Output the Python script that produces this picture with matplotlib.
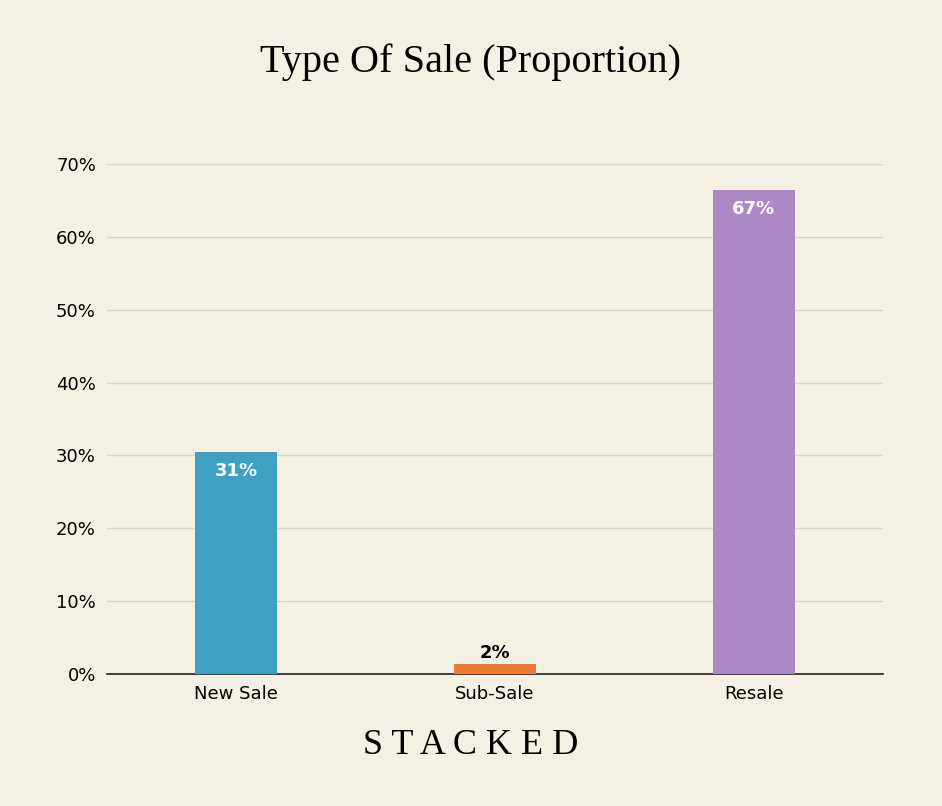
import matplotlib.pyplot as plt
from matplotlib.ticker import FuncFormatter

categories = ["New Sale", "Sub-Sale", "Resale"]
values = [30.5, 1.4, 66.4]
labels = ["31%", "2%", "67%"]
colors = ["#3fa1c1", "#ec7a31", "#ad88c6"]
bg = "#f4f0e4"

fig = plt.figure(figsize=(9.42, 8.06), dpi=100, facecolor=bg)
ax = fig.add_axes([0.1136, 0.1638, 0.8238, 0.6327], facecolor=bg)

x = range(len(categories))
ax.bar(x, values, width=0.317, color=colors, zorder=3)

for i, (v, lab) in enumerate(zip(values, labels)):
    if v > 10:
        ax.text(i, v - 1.4, lab, ha="center", va="top", color="white",
                fontsize=13, fontweight="bold", family="DejaVu Sans")
    else:
        ax.text(i, v + 0.3, lab, ha="center", va="bottom", color="black",
                fontsize=13, fontweight="bold", family="DejaVu Sans")

ax.set_xlim(-0.5, 2.5)
ax.set_ylim(0, 70)
ax.set_yticks(range(0, 71, 10))
ax.yaxis.set_major_formatter(FuncFormatter(lambda v, p: f"{int(v)}%"))
ax.set_xticks(list(x))
ax.set_xticklabels(categories)
ax.tick_params(axis="both", length=0, labelsize=13, pad=8)
ax.grid(axis="y", color="#d8d4c8", linewidth=1, zorder=0)
for s in ["top", "right", "left"]:
    ax.spines[s].set_visible(False)
ax.spines["bottom"].set_color("#222222")
ax.spines["bottom"].set_linewidth(1.2)

fig.text(0.5, 0.923, "Type Of Sale (Proportion)", ha="center", va="center",
         fontsize=29, family="Liberation Serif")
fig.text(0.5, 0.075, "S T A C K E D", ha="center", va="center",
         fontsize=26, family="Liberation Serif")

fig.savefig("out.png", dpi=100, facecolor=bg)
